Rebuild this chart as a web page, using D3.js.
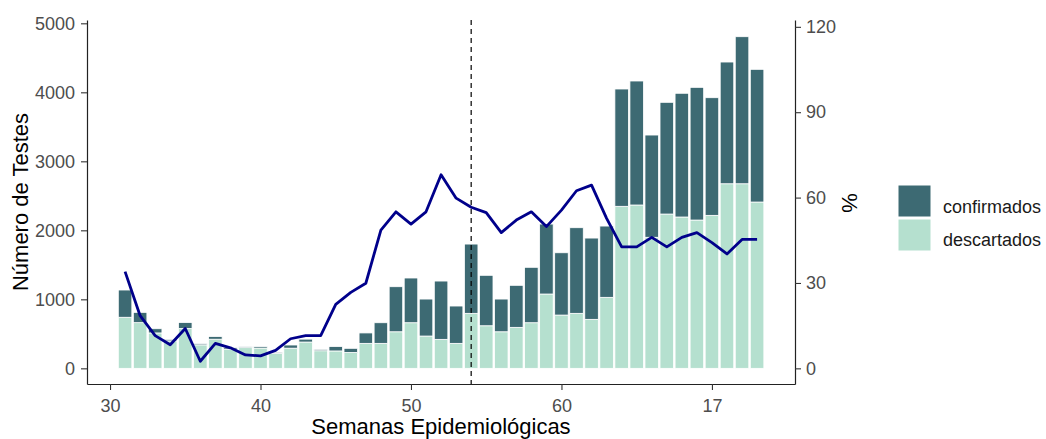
<!DOCTYPE html>
<head>
  <meta charset="utf-8">
  <script src="https://cdn.jsdelivr.net/npm/d3@7"></script>
  <style>
    body { margin: 0; background: #fff; }
    svg {
      width: 1046px;
      height: 439px;
      display: block;
      font-family: "Liberation Sans", Arial, sans-serif;
    }
  </style>
</head>

<body>
  <svg></svg>
  <script>
    // semanas epidemiológicas (54 = semana 1 de 2021)
    var semanas = [31, 32, 33, 34, 35, 36, 37, 38, 39, 40, 41, 42, 43, 44, 45, 46, 47, 48, 49, 50, 51, 52,
      53, 54, 55, 56, 57, 58, 59, 60, 61, 62, 63, 64, 65, 66, 67, 68, 69, 70, 71, 72, 73];
    var confirmados = [395, 149, 61, 22, 86, 17, 39, 22, 15, 22, 15, 46, 42, 20, 64, 60, 151, 299, 653, 648, 536, 845,
      541, 1004, 731, 474, 609, 803, 1014, 903, 1241, 1178, 1033, 1700, 1797, 1482, 1619, 1793, 1923, 1705, 1764, 2131, 1923];
    var descartados = [740, 662, 513, 398, 578, 340, 422, 277, 300, 294, 217, 292, 381, 255, 252, 230, 362, 362, 530, 661, 468, 420,
      362, 797, 617, 530, 594, 661, 1077, 772, 797, 710, 1029, 2348, 2367, 1899, 2236, 2193, 2149, 2217, 2675, 2675, 2410];
    var positividade = [34, 18.5, 11.5, 8.3, 14, 2.5, 8.8, 7.2, 4.7, 4.4, 6.3, 10.4, 11.5, 11.5, 22.5, 26.7, 29.9, 48.6, 55, 50.7, 55, 68,
      59.8, 56.6, 54.7, 47.7, 52.1, 55, 49.8, 55.6, 62.4, 64.4, 52.7, 42.7, 42.7, 46, 42.7, 46, 47.7, 44.2, 40.2, 45.3, 45.3];

    var xTicks = [30, 40, 50, 60, 70];
    var xTickLabels = ['30', '40', '50', '60', '17'];
    var yTicks = [0, 1000, 2000, 3000, 4000, 5000];
    var pctTicks = [0, 30, 60, 90, 120];
    var inicio2021 = 54;
    var categorias = ['confirmados', 'descartados'];
    var cores = { confirmados: '#3d6a73', descartados: '#b5e0cf' };

    var svg = d3.select('svg');

    var x = d3.scaleLinear().domain([28.47, 75.52]).range([87, 795]);
    var y = d3.scaleLinear().domain([-227, 5048]).range([384, 20]);
    var yPct = d3.scaleLinear().domain([-5.5, 122.4]).range([384, 20]);
    var barW = (x(1) - x(0)) * 0.9;

    var rows = semanas.map(function(s, i) {
      return { semana: s, confirmados: confirmados[i], descartados: descartados[i] };
    });

    // descartados em baixo, confirmados em cima
    var stacked = d3.stack().keys(['descartados', 'confirmados'])(rows);

    svg.append('g').selectAll('g')
      .data(stacked).enter().append('g')
      .attr('fill', function(d) { return cores[d.key]; })
      .selectAll('rect')
      .data(function(d) { return d; }).enter().append('rect')
      .attr('x', function(d) { return x(d.data.semana) - barW / 2; })
      .attr('width', barW)
      .attr('y', function(d) { return y(d[1]); })
      .attr('height', function(d) { return y(d[0]) - y(d[1]); })
      .attr('stroke', '#fff')
      .attr('stroke-width', 0.8);

    // linha tracejada na virada do ano
    svg.append('line')
      .attr('x1', x(inicio2021)).attr('x2', x(inicio2021))
      .attr('y1', 20).attr('y2', 384)
      .attr('stroke', '#000')
      .attr('stroke-width', 1.2)
      .attr('stroke-dasharray', '5,4');

    var line = d3.line()
      .x(function(d) { return x(d[0]); })
      .y(function(d) { return yPct(d[1]); });

    svg.append('path')
      .datum(semanas.map(function(s, i) { return [s, positividade[i]]; }))
      .attr('d', line)
      .attr('fill', 'none')
      .attr('stroke', '#00008b')
      .attr('stroke-width', 2.8)
      .attr('stroke-linejoin', 'round');

    // eixos
    var gx = svg.append('g').attr('transform', 'translate(0,384)')
      .call(d3.axisBottom(x).tickValues(xTicks).tickSize(6).tickSizeOuter(0).tickPadding(9)
        .tickFormat(function(d, i) { return xTickLabels[i]; }));
    var gy = svg.append('g').attr('transform', 'translate(87,0)')
      .call(d3.axisLeft(y).tickValues(yTicks).tickSize(6).tickSizeOuter(0).tickPadding(6)
        .tickFormat(d3.format('d')));
    var gy2 = svg.append('g').attr('transform', 'translate(795,0)')
      .call(d3.axisRight(yPct).tickValues(pctTicks).tickSize(6).tickSizeOuter(0).tickPadding(5));

    [gx, gy, gy2].forEach(function(g) {
      g.select('.domain').attr('stroke', '#222').attr('stroke-width', 1.2);
      g.selectAll('.tick line').attr('stroke', '#333').attr('stroke-width', 1.1);
      g.selectAll('.tick text').attr('fill', '#4d4d4d').style('font-size', '18px')
        .style('font-family', '"Liberation Sans", Arial, sans-serif');
    });

    // títulos
    svg.append('text')
      .attr('x', 441).attr('y', 434)
      .attr('text-anchor', 'middle')
      .style('font-size', '22px')
      .text('Semanas Epidemiológicas');

    svg.append('text')
      .attr('transform', 'translate(28,202)rotate(-90)')
      .attr('text-anchor', 'middle')
      .style('font-size', '22px')
      .text('Número de Testes');

    svg.append('text')
      .attr('transform', 'translate(842,203)rotate(90)')
      .attr('text-anchor', 'middle')
      .style('font-size', '22px')
      .text('%');

    // legenda
    var legend = svg.append('g').attr('transform', 'translate(898,185)');
    var item = legend.selectAll('g')
      .data(categorias).enter().append('g')
      .attr('transform', function(d, i) { return 'translate(0,' + (i * 34) + ')'; });
    item.append('rect')
      .attr('width', 33).attr('height', 32)
      .attr('fill', function(d) { return cores[d]; })
      .attr('stroke', '#fff').attr('stroke-width', 1);
    item.append('text')
      .attr('x', 45).attr('y', function(d, i) { return 28 - i * 1; })
      .style('font-size', '18px')
      .attr('fill', '#1a1a1a')
      .text(function(d) { return d; });
  </script>
</body>
